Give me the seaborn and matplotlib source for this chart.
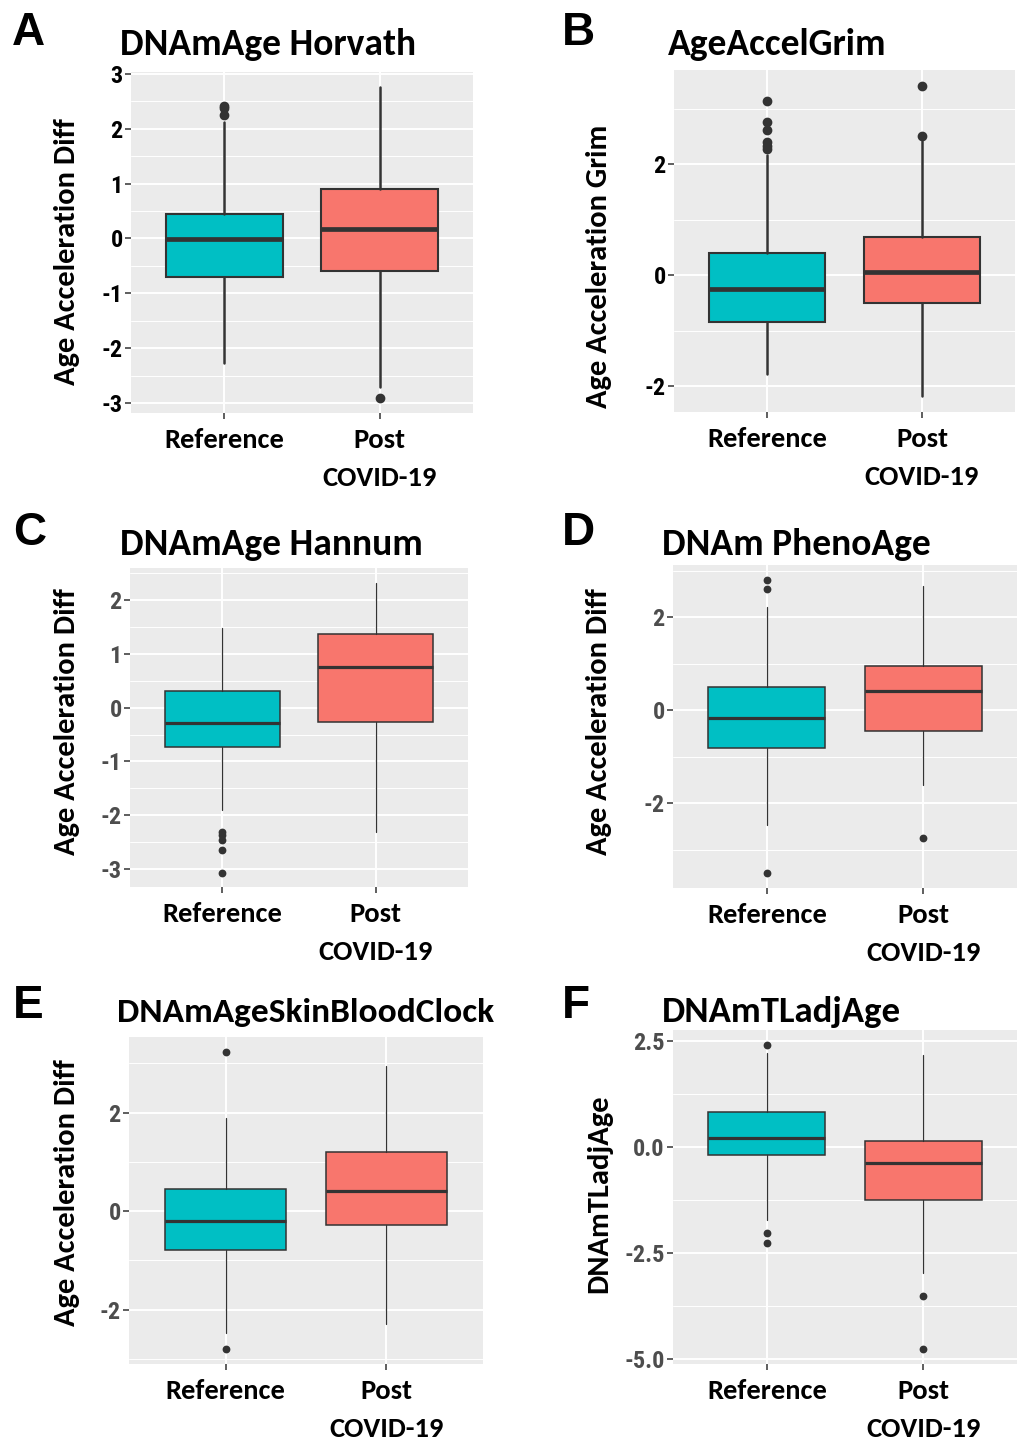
import numpy as np
import matplotlib
matplotlib.use("Agg")
import matplotlib.pyplot as plt
import seaborn as sns
from matplotlib import font_manager as fm

# ---------------- data ----------------
groups = ["Reference", "Post\nCOVID-19"]
group_colors = ["#00BFC4", "#F8766D"]
panel_letters = ["A", "B", "C", "D", "E", "F"]
panel_titles = ["DNAmAge Horvath", "AgeAccelGrim", "DNAmAge Hannum",
                "DNAm PhenoAge", "DNAmAgeSkinBloodClock", "DNAmTLadjAge"]
y_labels = ["Age Acceleration Diff", "Age Acceleration Grim", "Age Acceleration Diff",
            "Age Acceleration Diff", "Age Acceleration Diff", "DNAmTLadjAge"]

# Reference group box statistics (per panel A..F)
ref_lo  = [-2.27, -1.78, -1.90, -2.48, -2.48, -1.73]
ref_q1  = [-0.70, -0.83, -0.73, -0.82, -0.79, -0.20]
ref_med = [-0.02, -0.25, -0.28, -0.17, -0.20,  0.19]
ref_q3  = [ 0.44,  0.41,  0.31,  0.51,  0.45,  0.82]
ref_hi  = [ 2.12,  2.16,  1.47,  2.22,  1.88,  2.20]
ref_out = [[2.24, 2.38, 2.41],
           [2.28, 2.33, 2.41, 2.62, 2.76, 3.15],
           [-2.31, -2.36, -2.45, -2.65, -3.06],
           [2.61, 2.81, -3.51],
           [3.23, -2.80],
           [2.39, -2.05, -2.28]]

# Post COVID-19 group box statistics (per panel A..F)
post_lo  = [-2.70, -2.18, -2.31, -1.60, -2.30, -2.99]
post_q1  = [-0.59, -0.49, -0.27, -0.44, -0.29, -1.26]
post_med = [ 0.17,  0.07,  0.75,  0.42,  0.41, -0.39]
post_q3  = [ 0.90,  0.70,  1.37,  0.95,  1.20,  0.14]
post_hi  = [ 2.75,  2.43,  2.32,  2.68,  2.95,  2.15]
post_out = [[-2.90], [2.51, 3.42], [], [-2.75], [], [-3.53, -4.77]]

y_major = [[-3, -2, -1, 0, 1, 2, 3], [-2, 0, 2], [-3, -2, -1, 0, 1, 2],
           [-2, 0, 2], [-2, 0, 2], [-5.0, -2.5, 0.0, 2.5]]
y_major_labels = [["-3", "-2", "-1", "0", "1", "2", "3"], ["-2", "0", "2"],
                  ["-3", "-2", "-1", "0", "1", "2"], ["-2", "0", "2"], ["-2", "0", "2"],
                  ["-5.0", "-2.5", "0.0", "2.5"]]

# ---------------- style ----------------
sns.set_theme(style="darkgrid", rc={"axes.facecolor": "#EBEBEB", "grid.color": "white"})


def pick(names):
    for n in names:
        try:
            fm.findfont(fm.FontProperties(family=n), fallback_to_default=False)
            return n
        except Exception:
            pass
    return "DejaVu Sans"


calib = pick(["Carlito", "Lato", "Open Sans", "Liberation Sans"])
narrow = pick(["Liberation Sans Narrow", "Roboto Condensed", "Liberation Sans"])
arial = pick(["Liberation Sans", "DejaVu Sans"])
plt.rcParams["font.family"] = [calib, "DejaVu Sans"]

W, H = 1017, 1438
fig = plt.figure(figsize=(W / 100, H / 100), dpi=100)
fig.patch.set_facecolor("white")

# layout (pixels): panel left, top, right, bottom
panel_px = [(131, 72, 473, 413), (674, 70, 1015, 412), (130, 568, 468, 887),
            (673, 565, 1017, 888), (129, 1037, 483, 1364), (673, 1030, 1017, 1364)]
title_px = [(120, 55), (668, 55), (120, 555), (662, 555), (117, 1022), (662, 1022)]
title_size = [27, 27, 27, 27, 25.5, 26.5]
letter_px = [(12, 45), (562, 45), (13, 545), (562, 545), (13, 1018), (562, 1018)]
ylab_px = [(80, 252), (612, 266), (80, 722), (612, 722), (80, 1193), (612, 1194)]
thick = [True, True, False, False, False, False]
dark_ticks = [True, True, False, False, False, False]

for i in range(6):
    l, t, r, b = panel_px[i]
    ax = fig.add_axes([l / W, 1 - b / H, (r - l) / W, (b - t) / H])
    ax.set_facecolor("#EBEBEB")

    stats = [
        dict(whislo=ref_lo[i], q1=ref_q1[i], med=ref_med[i], q3=ref_q3[i],
             whishi=ref_hi[i], fliers=ref_out[i]),
        dict(whislo=post_lo[i], q1=post_q1[i], med=post_med[i], q3=post_q3[i],
             whishi=post_hi[i], fliers=post_out[i]),
    ]
    if thick[i]:
        lw_box, lw_med, lw_wh, ms = 1.5, 3.4, 1.8, 6.0
    else:
        lw_box, lw_med, lw_wh, ms = 1.1, 2.3, 0.9, 4.6
    bp = ax.bxp(stats, positions=[1, 2], widths=0.75, patch_artist=True,
                showcaps=False,
                boxprops=dict(edgecolor="#333333", linewidth=lw_box),
                medianprops=dict(color="#333333", linewidth=lw_med, solid_capstyle="butt"),
                whiskerprops=dict(color="#333333", linewidth=lw_wh),
                flierprops=dict(marker="o", markerfacecolor="#333333",
                                markeredgecolor="#333333", markersize=ms, linestyle="none"))
    for patch, c in zip(bp["boxes"], group_colors):
        patch.set_facecolor(c)

    maj = y_major[i]
    step = maj[1] - maj[0]
    minors = [maj[0] - step / 2] + [m + step / 2 for m in maj]
    ax.set_yticks(maj, labels=y_major_labels[i])
    ax.set_yticks(minors, minor=True)
    ax.set_xticks([1, 2], labels=groups)

    # ggplot-style 5% expansion of the data range (set after ticks)
    allv = [ref_lo[i], ref_hi[i], post_lo[i], post_hi[i]] + ref_out[i] + post_out[i]
    lo, hi = min(allv), max(allv)
    pad = 0.05 * (hi - lo)
    ax.set_ylim(lo - pad, hi + pad)
    ax.set_xlim(0.4, 2.6)

    ax.grid(which="major", color="white", linewidth=1.4)
    ax.grid(which="minor", axis="y", color="white", linewidth=0.7)
    ax.grid(which="minor", axis="x", visible=False)
    ax.set_axisbelow(True)
    for s in ax.spines.values():
        s.set_visible(False)
    ax.tick_params(axis="both", which="major", length=4, width=1.1, color="#333333",
                   direction="out", bottom=True, left=True)
    ax.tick_params(axis="x", pad=6.5)
    ax.tick_params(axis="y", pad=2)
    ax.tick_params(which="minor", length=0)

    tcol = "black" if dark_ticks[i] else "#4D4D4D"
    for lab in ax.get_yticklabels():
        lab.set_fontfamily([narrow, "DejaVu Sans"])
        lab.set_fontweight("bold")
        lab.set_fontsize(17.5)
        lab.set_color(tcol)
    for lab in ax.get_xticklabels():
        lab.set_fontfamily([calib, "DejaVu Sans"])
        lab.set_fontweight("bold")
        lab.set_fontsize(20.5)
        lab.set_color("black")
        lab.set_linespacing(1.7)

    ax.set_ylabel(y_labels[i], fontsize=22, fontweight="bold", color="black",
                  family=[calib, "DejaVu Sans"])
    xr, yc = ylab_px[i]
    ax.yaxis.set_label_coords((xr - l) / (r - l), (b - yc) / (b - t))
    ax.set_xlabel("")

    tx, ty = title_px[i]
    fig.text(tx / W, 1 - ty / H, panel_titles[i], fontsize=title_size[i], fontweight="bold",
             ha="left", va="baseline", color="black", family=[calib, "DejaVu Sans"])
    lx, ly = letter_px[i]
    fig.text(lx / W, 1 - ly / H, panel_letters[i], fontsize=33, fontweight="bold",
             ha="left", va="baseline", color="black", family=[arial, "DejaVu Sans"])

fig.savefig("out.png", dpi=100)
